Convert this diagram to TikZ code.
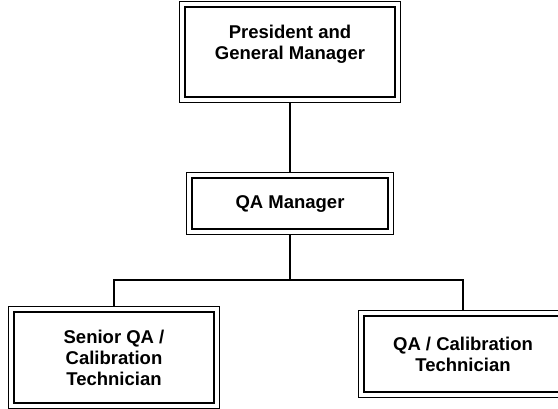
\documentclass[tikz,border=0pt]{standalone}
\usepackage{fontspec}
\setmainfont{Liberation Sans}

\begin{document}
\begin{tikzpicture}[x=1pt, y=1pt, line width=2pt,
  post/.style={draw, line width=2.4pt, align=center, inner sep=0pt,
    font=\bfseries\fontsize{18.5}{21}\selectfont}]
  \useasboundingbox (0,0) rectangle (558,-408);
  \clip (0,0) rectangle (558,-408);
  % boxes (inner thick frame)
  \node[post, minimum width=210pt, minimum height=90pt, text depth=20pt] (pgm) at (290,-52) {President and\\General Manager};
  \node[post, minimum width=196pt, minimum height=51pt] (qam) at (290,-203.5) {QA Manager};
  \node[post, minimum width=200pt, minimum height=91pt] (sqa) at (114,-357.5) {Senior QA /\\Calibration\\Technician};
  \node[post, minimum width=198pt, minimum height=76pt] (cal) at (463,-354) {QA / Calibration\\Technician};
  % outer thin frame
  \foreach \n in {pgm,qam,sqa,cal}
    \draw[line width=1pt] ([shift={(-4,4)}]\n.north west) rectangle ([shift={(4,-4)}]\n.south east);
  % connectors
  \coordinate (bus) at (290,-280);
  \draw ([yshift=-4pt]pgm.south) -- ([yshift=4pt]qam.north);
  \draw ([yshift=-4pt]qam.south) -- (bus);
  \draw ([yshift=4pt]sqa.north) |- (bus) -| ([yshift=4pt]cal.north);
\end{tikzpicture}
\end{document}
